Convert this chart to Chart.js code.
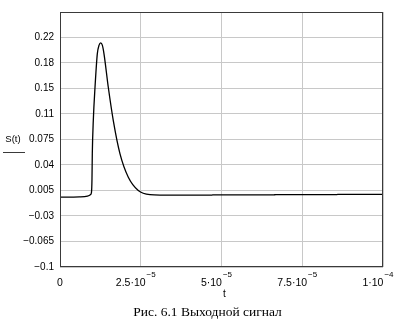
<!DOCTYPE html>
<html>
<head>
<meta charset="utf-8">
<script src="https://cdn.jsdelivr.net/npm/chart.js@4/dist/chart.umd.min.js"></script>
<style>
  html, body { margin: 0; padding: 0; background: #fff; }
  #wrap { width: 403px; height: 327px; }
</style>
</head>
<body>
<div id="wrap"><canvas id="signalChart"></canvas></div>
<script>
// time in units of 1e-5 s
const tValues = [0, 0.6, 0.85, 0.95, 0.975, 0.99, 1.0, 1.031, 1.084, 1.155, 1.21, 1.26, 1.31, 1.362, 1.495, 1.65, 1.858, 2.115, 2.424, 2.786, 3.096, 4.7, 4.76, 6.62, 6.68, 8.54, 8.6, 10];
const sValues = [-0.0042, -0.0038, -0.0028, -0.0005, 0.0027, 0.02, 0.0553, 0.101, 0.1467, 0.1926, 0.2045, 0.2076, 0.2045, 0.1926, 0.1467, 0.101, 0.0553, 0.0232, 0.005, -0.0008, -0.0013, -0.0013, -0.0010, -0.0010, -0.0007, -0.0007, -0.0004, -0.0004];

const yTicks = [-0.1, -0.065, -0.03, 0.005, 0.04, 0.075, 0.11, 0.145, 0.18, 0.215, 0.25];
const yTickLabels = ['\u22120.1', '\u22120.065', '\u22120.03', '0.005', '0.04', '0.075', '0.11', '0.15', '0.18', '0.22', ''];
const xTicks = [0, 2.5e-5, 5e-5, 7.5e-5, 1e-4];
const xTickBase = ['0', '2.5\u00b710', '5\u00b710', '7.5\u00b710', '1\u00b710'];
const xTickExp = ['', '\u22125', '\u22125', '\u22125', '\u22124'];

const caption = 'Рис. 6.1 Выходной сигнал';

const points = tValues.map((t, i) => ({ x: t * 1e-5, y: sValues[i] }));

const tickFont = { family: 'Liberation Sans', size: 10 };

// Mathcad style texts: frame, x labels with powers, S(t) with its bar, caption
const mathcadPlugin = {
    id: 'mathcad',
    afterDraw(chart) {
        const { ctx, chartArea: a } = chart;
        const xs = chart.scales.x;
        ctx.save();
        ctx.strokeStyle = '#3a3a3a';
        ctx.lineWidth = 1;
        ctx.strokeRect(a.left + 0.5, a.top + 0.5, a.right - a.left - 1, a.bottom - a.top - 1);

        ctx.fillStyle = '#000';
        ctx.textBaseline = 'middle';
        ctx.textAlign = 'left';
        xTicks.forEach((v, i) => {
            ctx.font = '10.5px "Liberation Sans"';
            const wb = ctx.measureText(xTickBase[i]).width;
            ctx.font = '8px "Liberation Sans"';
            const we = xTickExp[i] ? ctx.measureText(xTickExp[i]).width + 1 : 0;
            const cx = xs.getPixelForValue(v) - (xTickExp[i] ? 5 : 0);
            const x0 = cx - (wb + we) / 2;
            ctx.font = '10.5px "Liberation Sans"';
            ctx.fillText(xTickBase[i], x0, 283);
            if (xTickExp[i]) {
                ctx.font = '8px "Liberation Sans"';
                ctx.fillText(xTickExp[i], x0 + wb + 1, 275);
            }
        });

        ctx.textAlign = 'center';
        ctx.font = '10px "Liberation Sans"';
        ctx.fillText('t', (a.left + a.right) / 2 + 3, 294.5);

        ctx.font = '9.5px "Liberation Sans"';
        ctx.fillText('S(t)', 13, 139);
        ctx.beginPath();
        ctx.moveTo(3, 152.5);
        ctx.lineTo(25, 152.5);
        ctx.stroke();

        ctx.font = '13.5px "Liberation Serif"';
        ctx.fillText(caption, 207.5, 312);
        ctx.restore();
    }
};

new Chart(document.getElementById('signalChart'), {
    type: 'line',
    data: {
        datasets: [{
            data: points,
            borderColor: '#000',
            borderWidth: 1.3,
            pointRadius: 0,
            fill: false,
            cubicInterpolationMode: 'monotone',
        }]
    },
    options: {
        animation: false,
        responsive: true,
        maintainAspectRatio: false,
        layout: { padding: { left: 0, right: 20, top: 12, bottom: 0 } },
        plugins: {
            legend: { display: false },
            tooltip: { enabled: false }
        },
        scales: {
            x: {
                type: 'linear',
                min: 0,
                max: 1e-4,
                afterFit: s => { s.height = 60; },
                afterBuildTicks: s => { s.ticks = xTicks.map(v => ({ value: v })); },
                ticks: { display: false },
                grid: { color: '#c8c8c8', drawTicks: false },
                border: { display: false }
            },
            y: {
                min: -0.1,
                max: 0.25,
                afterFit: s => { s.width = 60; },
                afterBuildTicks: s => { s.ticks = yTicks.map(v => ({ value: v })); },
                ticks: {
                    color: '#000',
                    font: tickFont,
                    padding: 6,
                    autoSkip: false,
                    callback: (v, i) => yTickLabels[i]
                },
                grid: { color: '#c8c8c8', drawTicks: false },
                border: { display: false }
            }
        }
    },
    plugins: [mathcadPlugin]
});
</script>
</body>
</html>
